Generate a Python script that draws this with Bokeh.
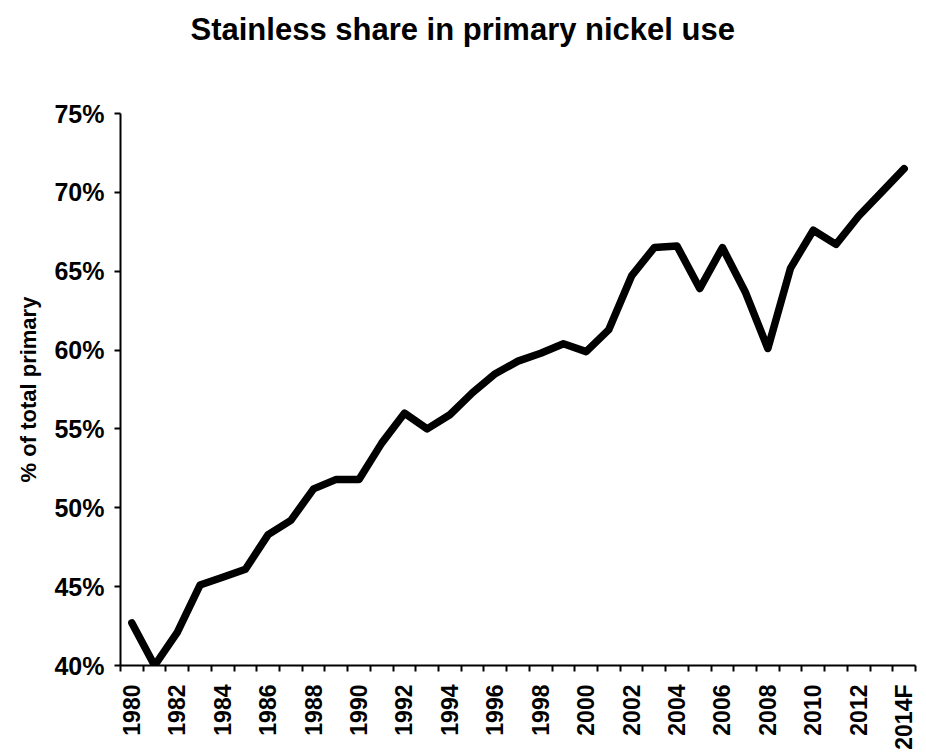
import math
from bokeh.plotting import figure
from bokeh.models import Range1d, FixedTicker, NumeralTickFormatter, ColumnDataSource, Title
from bokeh.embed import file_html
from bokeh.resources import INLINE

# ---- data ----
years = ["1980", "1981", "1982", "1983", "1984", "1985", "1986", "1987", "1988", "1989",
         "1990", "1991", "1992", "1993", "1994", "1995", "1996", "1997", "1998", "1999",
         "2000", "2001", "2002", "2003", "2004", "2005", "2006", "2007", "2008", "2009",
         "2010", "2011", "2012", "2013", "2014F"]
share = [42.7, 40.0, 42.1, 45.1, 45.6, 46.1, 48.3, 49.2, 51.2, 51.8,
         51.8, 54.1, 56.0, 55.0, 55.9, 57.3, 58.5, 59.3, 59.8, 60.4,
         59.9, 61.3, 64.7, 66.5, 66.6, 63.9, 66.5, 63.7, 60.1, 65.2,
         67.6, 66.7, 68.5, 70.0, 71.5]
y_ticks = [40, 45, 50, 55, 60, 65, 70, 75]
title_text = "Stainless share in primary nickel use"
y_label = "% of total primary"

FONT = "Liberation Sans"

idx = list(range(len(years)))
src = ColumnDataSource(dict(x=idx, y=[v / 100 for v in share]))

p = figure(width=926, height=752, output_backend="svg", toolbar_location=None, title=None,
           x_range=Range1d(-0.5, len(years) - 0.5),
           y_range=Range1d(y_ticks[0] / 100, y_ticks[-1] / 100),
           min_border_left=120, min_border_right=11, min_border_top=113, min_border_bottom=86)

p.line("x", "y", source=src, line_color="black", line_width=7.5,
       line_cap="round", line_join="round")

p.grid.visible = False
p.outline_line_color = None
p.background_fill_color = "white"
p.border_fill_color = "white"

# spacer between frame and title, then the title itself (outermost)
spacer = Title(text=" ", text_font_size="1px", standoff=64)
p.add_layout(spacer, "above")
title = Title(text=title_text, text_font=FONT, text_font_style="bold",
              text_font_size="31px", text_color="black", align="left",
              offset=70, standoff=0)
p.add_layout(title, "above")

# x axis
xa = p.xaxis[0]
label_idx = sorted(set([i for i in idx if i % 2 == 0] + [len(years) - 1]))
xa.ticker = FixedTicker(ticks=label_idx, minor_ticks=[i - 0.5 for i in range(len(years) + 1)])
xa.major_label_overrides = {i: years[i] for i in label_idx}
xa.major_tick_out = 0
xa.major_tick_in = 0
xa.minor_tick_out = 6
xa.minor_tick_in = 0
xa.minor_tick_line_color = "black"
xa.minor_tick_line_width = 2
xa.axis_line_color = "black"
xa.axis_line_width = 2
xa.major_label_orientation = math.pi / 2
xa.major_label_text_font = FONT
xa.major_label_text_font_style = "bold"
xa.major_label_text_font_size = "23px"
xa.major_label_text_color = "black"
xa.major_label_standoff = 13

# y axis
ya = p.yaxis[0]
ya.ticker = FixedTicker(ticks=[t / 100 for t in y_ticks])
ya.formatter = NumeralTickFormatter(format="0%")
ya.major_tick_out = 6
ya.major_tick_in = 0
ya.minor_tick_out = 0
ya.minor_tick_in = 0
ya.major_tick_line_color = "black"
ya.major_tick_line_width = 2
ya.axis_line_color = "black"
ya.axis_line_width = 2
ya.major_label_text_font = FONT
ya.major_label_text_font_style = "bold"
ya.major_label_text_font_size = "25px"
ya.major_label_text_color = "black"
ya.major_label_standoff = 10
ya.axis_label = y_label
ya.axis_label_text_font = FONT
ya.axis_label_text_font_style = "bold"
ya.axis_label_text_font_size = "22px"
ya.axis_label_text_color = "black"
ya.axis_label_standoff = 10

open("out.html", "w").write(file_html(p, INLINE))
